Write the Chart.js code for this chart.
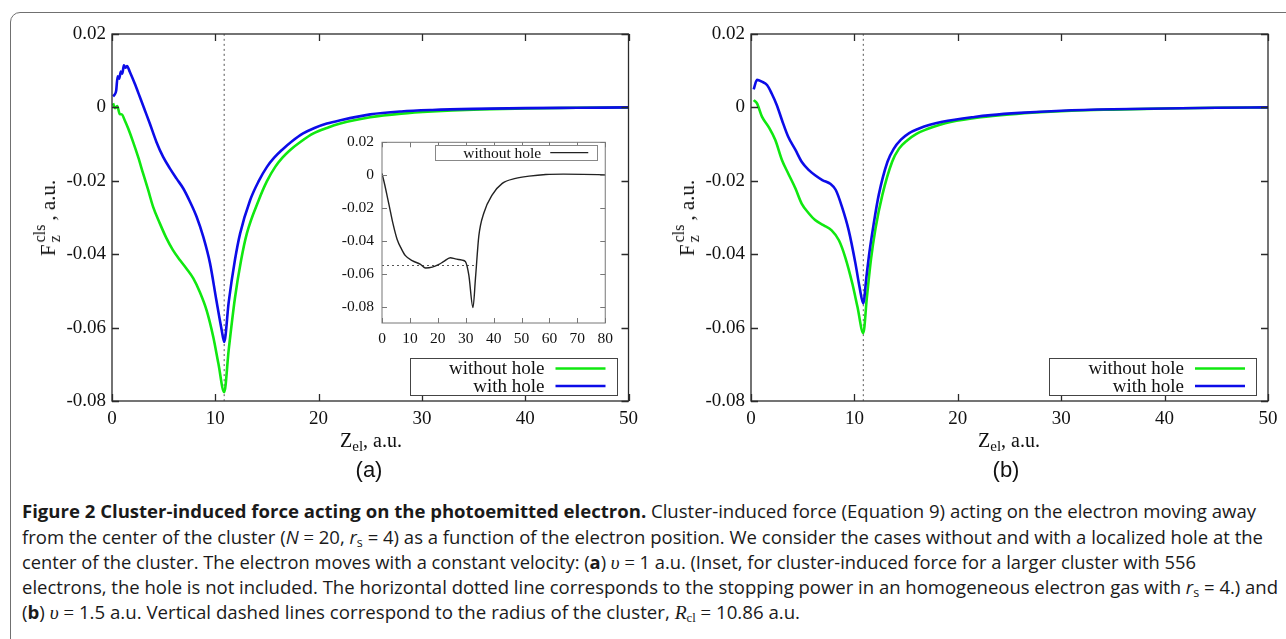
<!DOCTYPE html>
<html>
<head>
<meta charset="utf-8">
<script src="https://cdn.jsdelivr.net/npm/chart.js@4/dist/chart.umd.min.js"></script>
<style>
  body { margin: 0; width: 1286px; height: 639px; overflow: hidden; background: #fff; position: relative; color: #111; }
  .frame { position: absolute; left: 10px; top: 12px; width: 1320px; height: 700px; border: 1.5px solid #707070; border-radius: 10px; }
  canvas { position: absolute; }
  #chartA { left: 0; top: 0; }
  #chartB { left: 640px; top: 0; }
  #inset { left: 330px; top: 125px; }
  .serif { font-family: "Liberation Serif", serif; font-size: 20px; color: #111; white-space: nowrap; position: absolute; }
  .ytitle { transform: translate(-50%, -50%) rotate(-90deg); line-height: 22px; font-size: 21px; }
  .xtitle { transform: translate(-50%, -50%); line-height: 20px; }
  .xtitle sub { font-size: 15px; vertical-align: -4px; line-height: 0; }
  .stack { display: inline-block; font-size: 16px; line-height: 15px; vertical-align: -5px; margin-left: 2px; margin-right: 4px; }
  .panel { position: absolute; font-family: "Liberation Sans", sans-serif; font-size: 22px; transform: translate(-50%, -50%); }
  .cl { position: absolute; left: 22px; white-space: nowrap; display: inline-block; font-family: "Open Sans", sans-serif;
        font-size: 18.5px; line-height: 25px; height: 25px; transform-origin: 0 50%; color: #1a1a1a; }
  .cl b { font-weight: 700; }
  .cl sub { font-size: 0.68em; vertical-align: -0.25em; line-height: 0; }
  .m { font-family: "Liberation Serif", serif; font-style: italic; font-size: 1.05em; }
  .mr { font-family: "Liberation Serif", serif; }
</style>
</head>
<body>
<div class="frame"></div>

<canvas id="chartA" width="645" height="430"></canvas>
<canvas id="chartB" width="645" height="430"></canvas>
<canvas id="inset" width="290" height="225"></canvas>

<div class="serif ytitle" style="left:47px; top:218px;">F<span class="stack">cls<br>z</span>, a.u.</div>
<div class="serif ytitle" style="left:686px; top:218px;">F<span class="stack">cls<br>z</span>, a.u.</div>
<div class="serif xtitle" style="left:371px; top:440px;">Z<sub>el</sub>, a.u.</div>
<div class="serif xtitle" style="left:1009px; top:440px;">Z<sub>el</sub>, a.u.</div>
<div class="panel" style="left:369px; top:470px;">(a)</div>
<div class="panel" style="left:1006px; top:470px;">(b)</div>

<div class="cl" data-w="1234" style="top:498px;"><b>Figure 2 Cluster-induced force acting on the photoemitted electron.</b> Cluster-induced force (Equation 9) acting on the electron moving away</div>
<div class="cl" data-w="1241" style="top:524px;">from the center of the cluster (<i>N</i> <span class="mr">=</span> 20, <i>r</i><sub>s</sub> = 4) as a function of the electron position. We consider the cases without and with a localized hole at the</div>
<div class="cl" data-w="1174" style="top:549px;">center of the cluster. The electron moves with a constant velocity: (<b>a</b>) <span class="m">υ</span> <span class="mr">=</span> 1 a.u. (Inset, for cluster-induced force for a larger cluster with 556</div>
<div class="cl" data-w="1256" style="top:574px;">electrons, the hole is not included. The horizontal dotted line corresponds to the stopping power in an homogeneous electron gas with <i>r</i><sub>s</sub> = 4.) and</div>
<div class="cl" data-w="778" style="top:599px;">(<b>b</b>) <span class="m">υ</span> <span class="mr">=</span> 1.5 a.u. Vertical dashed lines correspond to the radius of the cluster, <span class="m">R</span><sub class="mr">cl</sub> <span class="mr">=</span> 10.86 a.u.</div>

<script>
// panel (a), v = 1 a.u.
const aZNoHole = [0.1, 0.3, 0.5, 0.75, 0.95, 1.23, 1.56, 2.04, 2.53, 3.01, 3.5, 3.98, 4.63, 5.28, 5.9, 6.57, 7.2, 7.87, 8.5, 9.16, 9.8, 10.3, 10.86, 11.3, 11.9, 12.5, 13.05, 14.2, 15.0, 15.8, 16.5, 17.25, 18.3, 19.5, 20.8, 22.1, 25, 28, 31, 35, 40, 45, 50];
const aFNoHole = [0.0011, -0.0002, 0.0004, -0.0018, -0.0019, -0.0035, -0.0057, -0.0094, -0.0135, -0.018, -0.0225, -0.0271, -0.0316, -0.0357, -0.0389, -0.0416, -0.0439, -0.0466, -0.0503, -0.0553, -0.0625, -0.0698, -0.0776, -0.066, -0.052, -0.0416, -0.0344, -0.0253, -0.0201, -0.0162, -0.0137, -0.0116, -0.0093, -0.0071, -0.0056, -0.0044, -0.0027, -0.0017, -0.0011, -0.0006, -0.0003, -0.0001, 0];
const aZHole = [0.1, 0.23, 0.4, 0.55, 0.7, 0.85, 1.0, 1.15, 1.3, 1.45, 1.72, 2.2, 2.69, 3.17, 3.66, 4.3, 4.95, 5.6, 6.25, 6.9, 7.55, 8.19, 8.84, 9.49, 10.1, 10.62, 10.86, 11.3, 11.9, 12.4, 13.37, 14.2, 15.0, 15.7, 16.45, 17.4, 18.5, 19.6, 20.8, 22.1, 25, 28, 31, 35, 40, 45, 50];
const aFHole = [0.003, 0.0034, 0.0045, 0.0085, 0.0078, 0.0098, 0.0092, 0.0115, 0.0108, 0.0113, 0.0097, 0.0065, 0.0029, -0.0007, -0.0044, -0.0094, -0.0135, -0.0166, -0.0194, -0.0221, -0.0257, -0.0298, -0.0353, -0.0425, -0.0525, -0.0607, -0.0639, -0.053, -0.0416, -0.0344, -0.0253, -0.0201, -0.0162, -0.0137, -0.0116, -0.0093, -0.0071, -0.0056, -0.0044, -0.0035, -0.0019, -0.0011, -0.0007, -0.0004, -0.0002, -0.0001, 0];

// panel (b), v = 1.5 a.u.
const bZNoHole = [0.26, 0.58, 1.06, 1.7, 2.35, 3.0, 3.6, 4.3, 4.9, 5.6, 6.2, 7.0, 7.8, 8.5, 9.1, 9.8, 10.3, 10.86, 11.2, 11.6, 12.04, 12.7, 13.65, 14.3, 15.1, 16.0, 17.05, 18.2, 19.3, 22.2, 25, 28, 31, 35, 40, 45, 50];
const bFNoHole = [0.002, 0.0011, -0.0025, -0.0053, -0.0089, -0.0144, -0.018, -0.0221, -0.0262, -0.0289, -0.0307, -0.0321, -0.0335, -0.0362, -0.0407, -0.048, -0.0544, -0.0615, -0.052, -0.0415, -0.033, -0.0239, -0.0148, -0.0113, -0.009, -0.0072, -0.0059, -0.0048, -0.004, -0.0027, -0.0019, -0.0013, -0.0009, -0.0006, -0.0003, -0.0001, 0];
const bZHole = [0.26, 0.58, 1.06, 1.55, 2.0, 2.5, 3.0, 3.6, 4.3, 4.9, 5.6, 6.2, 6.9, 7.7, 8.2, 8.8, 9.45, 10.1, 10.5, 10.86, 11.15, 11.45, 11.85, 12.35, 13.2, 13.8, 14.5, 15.3, 16.2, 17.3, 18.5, 21.6, 23.2, 26, 30, 35, 40, 45, 50];
const bFHole = [0.0049, 0.0075, 0.007, 0.0061, 0.0038, 0.0006, -0.0035, -0.008, -0.0116, -0.0148, -0.0171, -0.0185, -0.0198, -0.0209, -0.0225, -0.0271, -0.0335, -0.0425, -0.049, -0.0534, -0.0465, -0.0395, -0.032, -0.0239, -0.0148, -0.0113, -0.0088, -0.007, -0.0058, -0.0047, -0.0039, -0.0026, -0.0021, -0.0015, -0.0009, -0.0005, -0.0003, -0.0001, 0];

// inset: larger cluster, 556 electrons, no hole
const insetZ = [0, 1, 2, 3, 4, 5.4, 7, 8.4, 10.8, 13.8, 15.6, 18, 20.4, 22, 24.5, 26.3, 28.7, 29.9, 31.1, 32.6, 33.5, 34.7, 36.5, 39.5, 43.1, 47.9, 52.7, 58.7, 65, 72, 80];
const insetF = [0.001, -0.006, -0.014, -0.022, -0.030, -0.039, -0.045, -0.049, -0.052, -0.0543, -0.0565, -0.056, -0.0543, -0.0527, -0.0503, -0.051, -0.0517, -0.0527, -0.0607, -0.0806, -0.0627, -0.037, -0.023, -0.012, -0.005, -0.002, -0.0006, 0.0004, 0.0006, 0.0005, 0.0002];
const stoppingZ = [0, 34];
const stoppingF = [-0.055, -0.055];

// cluster radius R_cl
const rclZ = [10.86, 10.86];
const rclF = [0.02, -0.08];

const mainXTicks = [0, 10, 20, 30, 40, 50];
const mainXLabels = ['0', '10', '20', '30', '40', '50'];
const mainYTicks = [0.02, 0, -0.02, -0.04, -0.06, -0.08];
const mainYLabels = ['0.02', '0', '-0.02', '-0.04', '-0.06', '-0.08'];
const insetXTicks = [0, 10, 20, 30, 40, 50, 60, 70, 80];
const insetXLabels = ['0', '10', '20', '30', '40', '50', '60', '70', '80'];
const insetYTicks = [0.02, 0, -0.02, -0.04, -0.06, -0.08];
const insetYLabels = ['0.02', '0', '-0.02', '-0.04', '-0.06', '-0.08'];

const GREEN = '#10e810';
const BLUE = '#0c0ce8';

function toPoints(xs, ys) {
    return xs.map((x, i) => ({ x: x, y: ys[i] }));
}

// gnuplot style frame: box, inward ticks on all sides, legend inside the plot
const gnuFrame = {
    id: 'gnuFrame',
    beforeDraw(chart, args, opts) {
        const a = chart.chartArea;
        const ctx = chart.ctx;
        if (opts.fill) {
            ctx.save();
            ctx.fillStyle = opts.fill;
            ctx.fillRect(a.left, a.top, a.right - a.left, a.bottom - a.top);
            ctx.restore();
        }
    },
    afterDraw(chart, args, opts) {
        const a = chart.chartArea;
        const ctx = chart.ctx;
        const len = opts.tickLength;
        const xs = chart.scales.x;
        const ys = chart.scales.y;
        ctx.save();
        ctx.strokeStyle = opts.color;
        ctx.lineWidth = opts.lineWidth;
        ctx.beginPath();
        xs.ticks.forEach(t => {
            const px = Math.round(xs.getPixelForValue(t.value)) + 0.5;
            ctx.moveTo(px, a.bottom); ctx.lineTo(px, a.bottom - len);
            ctx.moveTo(px, a.top); ctx.lineTo(px, a.top + len);
        });
        ys.ticks.forEach(t => {
            const py = Math.round(ys.getPixelForValue(t.value)) + 0.5;
            ctx.moveTo(a.left, py); ctx.lineTo(a.left + len, py);
            ctx.moveTo(a.right, py); ctx.lineTo(a.right - len, py);
        });
        ctx.stroke();
        ctx.strokeRect(a.left, a.top, a.right - a.left, a.bottom - a.top);

        const lg = opts.legend;
        if (lg) {
            const items = chart.data.datasets.filter(d => d.inLegend);
            const bx = a.right - lg.right - lg.w;
            const by = lg.top != null ? a.top + lg.top : a.bottom - lg.bottom - lg.h;
            ctx.fillStyle = '#fff';
            ctx.fillRect(bx, by, lg.w, lg.h);
            ctx.strokeStyle = lg.border;
            ctx.lineWidth = 1;
            ctx.strokeRect(Math.round(bx) + 0.5, Math.round(by) + 0.5, Math.round(lg.w), Math.round(lg.h));
            ctx.font = lg.font;
            ctx.textAlign = 'right';
            ctx.textBaseline = 'middle';
            items.forEach((d, i) => {
                const cy = by + lg.row0 + i * lg.rowH;
                const right = bx + lg.w;
                ctx.fillStyle = '#111';
                ctx.fillText(d.label, right - lg.textRight, cy + 1);
                ctx.strokeStyle = d.borderColor;
                ctx.lineWidth = d.borderWidth;
                ctx.beginPath();
                ctx.moveTo(right - lg.lineFrom, cy);
                ctx.lineTo(right - lg.lineTo, cy);
                ctx.stroke();
            });
        }
        ctx.restore();
    }
};

function fixedTicks(values) {
    return function (axis) {
        axis.ticks = values.map(v => ({ value: v }));
    };
}

function makePanel(canvasId, zNo, fNo, zHole, fHole, yAxisWidth, padRight) {
    const canvas = document.getElementById(canvasId);
    if (!canvas) {
        console.error('Error: ' + canvasId + ' canvas not found!');
        return null;
    }
    return new Chart(canvas.getContext('2d'), {
        type: 'line',
        data: {
            datasets: [
                {
                    label: 'without hole',
                    data: toPoints(zNo, fNo),
                    borderColor: GREEN,
                    borderWidth: 2.6,
                    inLegend: true,
                    order: 1
                },
                {
                    label: 'with hole',
                    data: toPoints(zHole, fHole),
                    borderColor: BLUE,
                    borderWidth: 2.6,
                    inLegend: true,
                    order: 0
                },
                {
                    label: 'R_cl',
                    data: toPoints(rclZ, rclF),
                    borderColor: '#555',
                    borderWidth: 1,
                    borderDash: [2, 3],
                    order: 2
                }
            ]
        },
        options: {
            responsive: false,
            animation: false,
            events: [],
            cubicInterpolationMode: 'monotone',
            elements: { point: { radius: 0 }, line: { fill: false } },
            layout: { padding: { left: 0, top: 34, right: padRight, bottom: 0 } },
            scales: {
                x: {
                    type: 'linear',
                    min: 0,
                    max: 50,
                    afterBuildTicks: fixedTicks(mainXTicks),
                    afterFit: axis => { axis.height = 29; },
                    grid: { display: false, drawTicks: false },
                    border: { display: false },
                    ticks: {
                        padding: 7,
                        color: '#111',
                        font: { family: 'Liberation Serif', size: 19 },
                        maxRotation: 0,
                        callback: (v, i) => mainXLabels[i]
                    }
                },
                y: {
                    type: 'linear',
                    min: -0.08,
                    max: 0.02,
                    afterBuildTicks: fixedTicks(mainYTicks),
                    afterFit: axis => { axis.width = yAxisWidth; },
                    grid: { display: false, drawTicks: false },
                    border: { display: false },
                    ticks: {
                        padding: 6,
                        color: '#111',
                        font: { family: 'Liberation Serif', size: 19 },
                        callback: (v, i) => mainYLabels[i]
                    }
                }
            },
            plugins: {
                legend: { display: false },
                tooltip: { enabled: false },
                gnuFrame: {
                    color: '#2a2a2a',
                    lineWidth: 1.3,
                    tickLength: 7,
                    legend: {
                        w: 207, h: 37, right: 12, bottom: 6,
                        row0: 10.5, rowH: 17.5,
                        textRight: 72, lineFrom: 61, lineTo: 11,
                        font: '19px "Liberation Serif"', border: '#444'
                    }
                }
            }
        },
        plugins: [gnuFrame]
    });
}

makePanel('chartA', aZNoHole, aFNoHole, aZHole, aFHole, 112, 16);
makePanel('chartB', bZNoHole, bFNoHole, bZHole, bFHole, 111, 17);

const insetCanvas = document.getElementById('inset');
if (insetCanvas) {
    new Chart(insetCanvas.getContext('2d'), {
        type: 'line',
        data: {
            datasets: [
                {
                    label: 'without hole',
                    data: toPoints(insetZ, insetF),
                    borderColor: '#222',
                    borderWidth: 1.4,
                    inLegend: true,
                    order: 0
                },
                {
                    label: 'stopping power',
                    data: toPoints(stoppingZ, stoppingF),
                    borderColor: '#555',
                    borderWidth: 1,
                    borderDash: [2, 3],
                    order: 1
                }
            ]
        },
        options: {
            responsive: false,
            animation: false,
            events: [],
            cubicInterpolationMode: 'monotone',
            elements: { point: { radius: 0 }, line: { fill: false } },
            layout: { padding: { left: 0, top: 14, right: 14, bottom: 0 } },
            scales: {
                x: {
                    type: 'linear',
                    min: 0,
                    max: 80,
                    afterBuildTicks: fixedTicks(insetXTicks),
                    afterFit: axis => { axis.height = 27; },
                    grid: { display: false, drawTicks: false },
                    border: { display: false },
                    ticks: {
                        padding: 7,
                        color: '#111',
                        font: { family: 'Liberation Serif', size: 15.5 },
                        maxRotation: 0,
                        callback: (v, i) => insetXLabels[i]
                    }
                },
                y: {
                    type: 'linear',
                    min: -0.09,
                    max: 0.02,
                    afterBuildTicks: fixedTicks(insetYTicks),
                    afterFit: axis => { axis.width = 52; },
                    grid: { display: false, drawTicks: false },
                    border: { display: false },
                    ticks: {
                        padding: 8,
                        color: '#111',
                        font: { family: 'Liberation Serif', size: 15.5 },
                        callback: (v, i) => insetYLabels[i]
                    }
                }
            },
            plugins: {
                legend: { display: false },
                tooltip: { enabled: false },
                gnuFrame: {
                    fill: '#fff',
                    color: '#777',
                    lineWidth: 1,
                    tickLength: 5,
                    legend: {
                        w: 162, h: 14.5, right: 8, top: 3,
                        row0: 7.3, rowH: 15,
                        textRight: 56, lineFrom: 47, lineTo: 9,
                        font: '15.5px "Liberation Serif"', border: '#888'
                    }
                }
            }
        },
        plugins: [gnuFrame]
    });
} else {
    console.error('Error: inset canvas not found!');
}

// fit each caption line to the width it has in the figure
document.querySelectorAll('.cl').forEach(el => {
    const w = el.getBoundingClientRect().width;
    const target = parseFloat(el.dataset.w);
    if (w > 0) el.style.transform = 'scaleX(' + (target / w).toFixed(4) + ')';
});
</script>
</body>
</html>
